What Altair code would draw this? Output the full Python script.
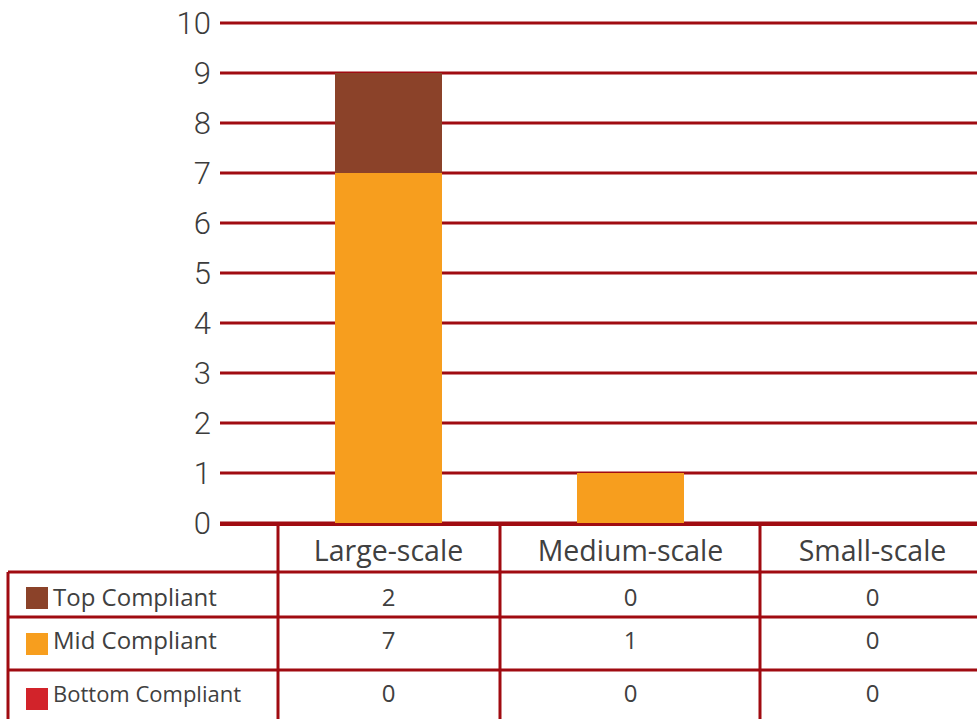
import altair as alt
import pandas as pd

# ---- data -------------------------------------------------------------
categories = ["Large-scale", "Medium-scale", "Small-scale"]
series = ["Top Compliant", "Mid Compliant", "Bottom Compliant"]
top_compliant = [2, 0, 0]
mid_compliant = [7, 1, 0]
bottom_compliant = [0, 0, 0]
series_colors = ["#8B4229", "#F79E1E", "#D2232A"]
y_ticks = list(range(0, 11))

series_values = {
    "Top Compliant": top_compliant,
    "Mid Compliant": mid_compliant,
    "Bottom Compliant": bottom_compliant,
}

records = []
for i, s in enumerate(series):
    for c, v in zip(categories, series_values[s]):
        # stack rank: Bottom at the base, Top on top
        records.append({"category": c, "series": s, "value": v,
                        "stack": len(series) - 1 - i})
df = pd.DataFrame(records)
ticks_df = pd.DataFrame({"tick": y_ticks})
cats_df = pd.DataFrame({"category": categories})

# ---- layout / style ---------------------------------------------------
W, H = 977, 719
RED = "#a00b11"
TEXT = "#404040"
TABLE_FONT = "Open Sans"

x_scale = alt.Scale(domain=categories, range=[267.5, 993.5],
                    paddingInner=0, paddingOuter=0)
y_scale = alt.Scale(domain=[0, 10], range=[523, 23], nice=False)
color_scale = alt.Scale(domain=series, range=series_colors)

# text baselines, key centres and label sizes for the data-table rows
row_baseline = {"Top Compliant": 606, "Mid Compliant": 649, "Bottom Compliant": 702}
key_center = {"Top Compliant": 598, "Mid Compliant": 644, "Bottom Compliant": 699}
label_size = {"Top Compliant": 24, "Mid Compliant": 24, "Bottom Compliant": 22}

# ---- plot area ---------------------------------------------------------
grid = alt.Chart(ticks_df).mark_rule(color=RED, strokeWidth=3).encode(
    y=alt.Y("tick:Q", scale=y_scale, axis=None),
    x=alt.value(220),
    x2=alt.value(W),
)

tick_labels = alt.Chart(ticks_df).mark_text(
    align="right", baseline="middle", dy=2, fontSize=31,
    font="Roboto", fontWeight=300, color="#3c3c3c",
).encode(
    y=alt.Y("tick:Q", scale=y_scale, axis=None),
    x=alt.value(211),
    text=alt.Text("tick:Q"),
)

bars = alt.Chart(df).mark_bar(size=107).encode(
    x=alt.X("category:N", scale=x_scale, axis=None, sort=categories),
    y=alt.Y("value:Q", scale=y_scale, axis=None, stack="zero"),
    color=alt.Color("series:N", scale=color_scale, legend=None),
    order=alt.Order("stack:Q"),
)

# ---- data table frame ---------------------------------------------------
frame_df = pd.DataFrame([
    # horizontal lines
    {"x": 220, "x2": W, "y": 524.5, "y2": 524.5},
    {"x": 8, "x2": W, "y": 572, "y2": 572},
    {"x": 8, "x2": W, "y": 617, "y2": 617},
    {"x": 8, "x2": W, "y": 670, "y2": 670},
    # vertical lines
    {"x": 8, "x2": 8, "y": 572, "y2": H},
    {"x": 278, "x2": 278, "y": 524, "y2": H},
    {"x": 500, "x2": 500, "y": 524, "y2": H},
    {"x": 760, "x2": 760, "y": 524, "y2": H},
])
frame = alt.Chart(frame_df).mark_rule(color=RED, strokeWidth=3).encode(
    x=alt.X("x:Q", scale=None, axis=None),
    x2="x2:Q",
    y=alt.Y("y:Q", scale=None, axis=None),
    y2="y2:Q",
)

header = alt.Chart(cats_df).mark_text(
    baseline="alphabetic", fontSize=28.5, font=TABLE_FONT, color=TEXT,
).encode(
    x=alt.X("category:N", scale=x_scale, axis=None, sort=categories),
    y=alt.value(561),
    text="category:N",
)

layers = [grid, tick_labels, bars, frame, header]

for s in series:
    sub = df[df["series"] == s]
    b = row_baseline[s]
    k = key_center[s]
    layers.append(
        alt.Chart(sub).mark_text(
            baseline="alphabetic", fontSize=24, font=TABLE_FONT, color=TEXT,
        ).encode(
            x=alt.X("category:N", scale=x_scale, axis=None, sort=categories),
            y=alt.value(b),
            text=alt.Text("value:Q"),
        )
    )
    name_df = pd.DataFrame({"series": [s]})
    layers.append(
        alt.Chart(name_df).mark_text(
            align="left", baseline="alphabetic", fontSize=label_size[s],
            font=TABLE_FONT, color=TEXT,
        ).encode(
            x=alt.value(53),
            y=alt.value(b),
            text="series:N",
        )
    )
    layers.append(
        alt.Chart(name_df).mark_rect().encode(
            x=alt.value(26), x2=alt.value(48),
            y=alt.value(k - 11), y2=alt.value(k + 11),
            color=alt.Color("series:N", scale=color_scale, legend=None),
        )
    )

chart = alt.layer(*layers).properties(
    width=W, height=H,
    autosize=alt.AutoSizeParams(type="none"),
    padding=0,
    background="white",
).configure_view(stroke=None)

chart.save("out.html", embed_options={"renderer": "svg", "actions": False})
